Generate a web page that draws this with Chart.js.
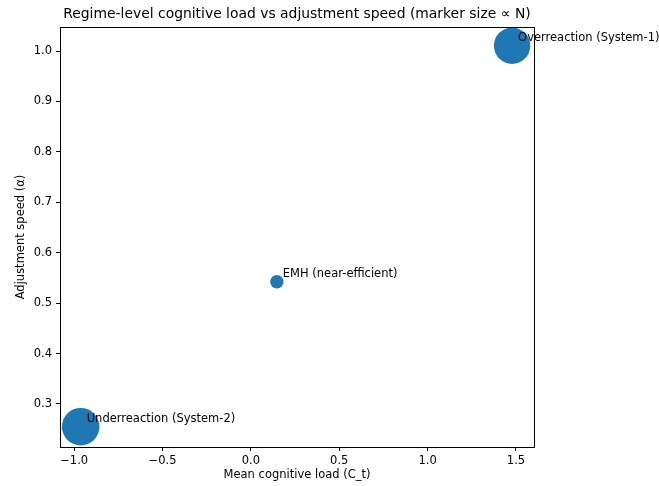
<!DOCTYPE html>
<html>
<head>
<meta charset="utf-8">
<script src="https://cdn.jsdelivr.net/npm/chart.js@4"></script>
<style>
	html, body { margin: 0; padding: 0; background: #fff; }
	#wrap { width: 659px; height: 486px; }
</style>
</head>
<body>
<div id="wrap"><canvas id="chart" width="659" height="486"></canvas></div>
<script>
const regimes = ['Overreaction (System-1)', 'EMH (near-efficient)', 'Underreaction (System-2)']
const cognitiveLoad = [1.478, 0.147, -0.963]
const adjustmentSpeed = [1.0105, 0.5425, 0.255]
// marker size (diameter² in px), proportional to N
const markerSize = [1325, 180, 1414]

const xTicks = [-1.0, -0.5, 0.0, 0.5, 1.0, 1.5]
const yTicks = [0.3, 0.4, 0.5, 0.6, 0.7, 0.8, 0.9, 1.0]

const titleText = 'Regime-level cognitive load vs adjustment speed (marker size \u221d N)'
const fontFamily = '"DejaVu Sans", sans-serif'
const blue = '#1f77b4'
const textSize = 11.5

const fmt = (v) => (v < 0 ? '\u2212' + Math.abs(v).toFixed(1) : v.toFixed(1))

const frameAndLabels = {
	id: 'frameAndLabels',
	afterDraw(chart) {
		const { ctx, chartArea } = chart
		ctx.save()
		ctx.strokeStyle = '#000'
		ctx.lineWidth = 1
		ctx.strokeRect(
			Math.round(chartArea.left) + 0.5,
			Math.round(chartArea.top) + 0.5,
			Math.round(chartArea.right - chartArea.left),
			Math.round(chartArea.bottom - chartArea.top),
		)

		ctx.fillStyle = '#000'
		ctx.font = '13.9px ' + fontFamily
		ctx.textAlign = 'center'
		ctx.textBaseline = 'middle'
		ctx.fillText(titleText, (chartArea.left + chartArea.right) / 2, 14)

		ctx.font = textSize + 'px ' + fontFamily
		ctx.textAlign = 'left'
		ctx.textBaseline = 'alphabetic'
		const meta = chart.getDatasetMeta(0)
		meta.data.forEach((pt, i) => {
			ctx.fillText(regimes[i], pt.x + 6, pt.y - 5)
		})
		ctx.restore()
	},
}

const context = document.getElementById('chart').getContext('2d')
const chart = new Chart(context, {
	type: 'scatter',
	data: {
		datasets: [
			{
				data: cognitiveLoad.map((x, i) => ({ x, y: adjustmentSpeed[i] })),
				backgroundColor: blue,
				borderWidth: 0,
				pointRadius: markerSize.map((s) => Math.sqrt(s) / 2),
				pointHoverRadius: markerSize.map((s) => Math.sqrt(s) / 2),
			},
		],
	},
	options: {
		responsive: false,
		animation: false,
		layout: { padding: { top: 27, right: 125, left: 0, bottom: 0 } },
		plugins: {
			legend: { display: false },
			tooltip: { enabled: false },
		},
		scales: {
			x: {
				type: 'linear',
				min: -1.08,
				max: 1.602,
				afterBuildTicks: (scale) => {
					scale.ticks = xTicks.map((value) => ({ value }))
				},
				afterFit: (scale) => {
					scale.height = 39
				},
				grid: { drawOnChartArea: false, tickLength: 4, color: '#000', tickColor: '#000' },
				border: { display: false },
				ticks: {
					color: '#000',
					padding: 3,
					maxRotation: 0,
					font: { family: fontFamily, size: textSize },
					callback: (v) => fmt(v),
				},
				title: {
					display: true,
					text: 'Mean cognitive load (C_t)',
					color: '#000',
					font: { family: fontFamily, size: textSize },
					padding: { top: 0, bottom: 4 },
				},
			},
			y: {
				type: 'linear',
				min: 0.2147,
				max: 1.0476,
				afterBuildTicks: (scale) => {
					scale.ticks = yTicks.map((value) => ({ value }))
				},
				afterFit: (scale) => {
					scale.width = 60
				},
				grid: { drawOnChartArea: false, tickLength: 4, color: '#000', tickColor: '#000' },
				border: { display: false },
				ticks: {
					color: '#000',
					padding: 4,
					font: { family: fontFamily, size: textSize },
					callback: (v) => fmt(v),
				},
				title: {
					display: true,
					text: 'Adjustment speed (\u03b1)',
					color: '#000',
					font: { family: fontFamily, size: textSize },
					padding: { top: 14, bottom: 0 },
				},
			},
		},
	},
	plugins: [frameAndLabels],
})
</script>
</body>
</html>
